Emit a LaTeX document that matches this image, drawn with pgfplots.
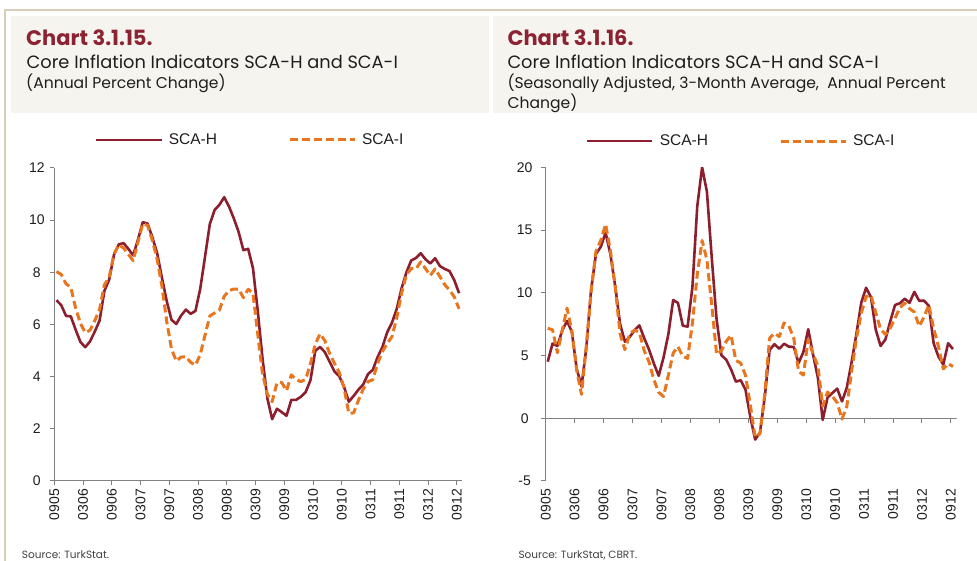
\documentclass[border=0pt]{standalone}
\usepackage{fontspec}
\setmainfont{Liberation Sans}
\newfontfamily\hdr{Poppins}
\usepackage{pgfplots}
\usepackage{pgfplotstable}
\pgfplotsset{compat=1.18}

\definecolor{scah}{RGB}{140,30,45}
\definecolor{scai}{RGB}{232,118,30}
\definecolor{chartred}{RGB}{140,35,50}
\definecolor{hdrbg}{RGB}{246,244,239}
\definecolor{framecol}{RGB}{216,205,185}
\definecolor{axisgray}{RGB}{128,128,128}
\definecolor{txt}{RGB}{30,30,30}

% annual percent change, monthly, 09.2005 - 09.2012
\pgfplotstableread{
x h i
0 6.93 8.03
1 6.74 7.92
2 6.33 7.56
3 6.31 7.42
4 5.80 6.63
5 5.33 6.04
6 5.13 5.69
7 5.35 5.78
8 5.73 6.15
9 6.15 6.58
10 7.29 7.52
11 7.72 7.81
12 8.67 8.70
13 9.07 9.06
14 9.12 8.93
15 8.90 8.69
16 8.65 8.45
17 9.25 9.15
18 9.92 9.86
19 9.87 9.80
20 9.35 9.23
21 8.74 8.51
22 7.80 7.48
23 6.90 6.13
24 6.18 5.06
25 6.02 4.60
26 6.34 4.75
27 6.57 4.77
28 6.41 4.55
29 6.52 4.44
30 7.37 4.85
31 8.60 5.59
32 9.85 6.33
33 10.39 6.44
34 10.59 6.55
35 10.88 7.08
36 10.52 7.30
37 10.07 7.36
38 9.55 7.36
39 8.85 7.03
40 8.90 7.35
41 8.16 7.20
42 6.52 5.63
43 4.68 4.10
44 3.17 3.33
45 2.37 3.04
46 2.77 3.76
47 2.64 3.78
48 2.50 3.46
49 3.11 4.07
50 3.11 3.89
51 3.23 3.81
52 3.41 3.90
53 3.87 4.50
54 4.99 5.25
55 5.14 5.64
56 4.94 5.38
57 4.57 4.89
58 4.20 4.51
59 4.02 4.16
60 3.61 3.58
61 3.04 2.59
62 3.26 2.61
63 3.50 3.09
64 3.70 3.52
65 4.10 3.81
66 4.26 3.88
67 4.75 4.50
68 5.13 4.96
69 5.70 5.27
70 6.07 5.53
71 6.60 6.26
72 7.38 7.20
73 7.99 7.89
74 8.45 8.15
75 8.55 8.13
76 8.73 8.40
77 8.50 8.14
78 8.34 7.88
79 8.54 8.13
80 8.24 7.84
81 8.13 7.53
82 8.05 7.32
83 7.70 7.06
84 7.20 6.60
}\annualdata

% seasonally adjusted, 3-month average, annualised
\pgfplotstableread{
x h i
0 4.51 7.17
1 5.95 7.05
2 5.76 5.22
3 6.98 6.98
4 7.76 8.78
5 6.88 6.95
6 3.96 3.83
7 2.54 1.90
8 5.60 5.80
9 10.27 10.10
10 13.10 13.30
11 13.66 14.18
12 14.80 15.46
13 13.04 13.34
14 10.50 10.44
15 7.51 6.72
16 6.10 5.47
17 6.48 6.74
18 7.02 7.03
19 7.40 6.84
20 6.38 5.38
21 5.47 4.49
22 4.36 3.08
23 3.38 2.06
24 4.83 1.73
25 6.68 3.42
26 9.42 5.19
27 9.19 5.71
28 7.38 4.94
29 7.30 4.77
30 10.49 7.60
31 16.90 11.46
32 20.00 14.17
33 18.06 12.61
34 12.80 9.04
35 7.90 5.10
36 5.03 5.38
37 4.66 6.13
38 3.90 6.62
39 2.92 4.60
40 3.03 4.40
41 2.27 3.42
42 0.10 1.04
43 -1.70 -1.52
44 -1.14 -1.23
45 1.73 2.00
46 5.45 6.38
47 5.90 6.77
48 5.54 6.51
49 5.94 7.60
50 5.70 7.35
51 5.69 6.39
52 4.40 3.74
53 5.28 3.44
54 7.10 6.30
55 5.07 5.12
56 3.24 4.18
57 -0.14 0.97
58 1.65 2.09
59 2.01 1.75
60 2.36 1.25
61 1.34 -0.07
62 2.44 0.94
63 4.49 3.74
64 6.75 6.40
65 9.22 8.37
66 10.40 9.70
67 9.66 9.80
68 7.05 8.42
69 5.76 7.10
70 6.28 6.68
71 7.72 7.18
72 9.03 7.98
73 9.16 8.81
74 9.53 9.17
75 9.20 8.74
76 10.07 8.46
77 9.36 7.33
78 9.37 8.06
79 8.96 9.04
80 5.97 7.16
81 4.91 5.71
82 4.28 3.93
83 5.98 4.36
84 5.51 4.12
}\sadata

\pgfplotsset{
  panel/.style={
    scale only axis,
    axis lines=left,
    axis line style={-, draw=axisgray, line width=1pt},
    tick style={draw=axisgray, line width=1pt},
    tick align=outside,
    major tick length=4.5pt,
    xmin=0,
    xtick={0,6,...,84},
    xticklabels={0905,0306,0906,0307,0907,0308,0908,0309,0909,0310,0910,0311,0911,0312,0912},
    tick label style={font=\fontsize{14}{16}\selectfont, text=txt},
    xticklabel style={rotate=90, anchor=east},
    /pgf/number format/assume math mode=true,
    legend style={draw=none, fill=none, inner sep=0pt, anchor=west,
      font=\fontsize{15.5}{17}\selectfont, text=txt,
      /tikz/every odd column/.append style={column sep=4pt},
      /tikz/every even column/.append style={column sep=69pt}},
    legend columns=-1,
    legend image code/.code={\draw[##1] (0pt,0pt) -- (65pt,0pt);},
  },
  hline/.style={scah, line width=2.6pt, line join=round},
  iline/.style={scai, line width=3pt, dash pattern=on 8pt off 4pt, line join=round},
}

\begin{document}
\begin{tikzpicture}
\useasboundingbox (0pt,0pt) rectangle (977pt,561pt);
% frame and header boxes
\draw[framecol, line width=1.5pt] (5pt,0pt) -- (5pt,551pt) -- (977pt,551pt);
\fill[hdrbg] (11pt,448.3pt) rectangle (489pt,545pt);
\fill[hdrbg] (493.3pt,448.3pt) rectangle (977pt,545pt);

% left header
\node[anchor=base west, inner sep=0pt, text=chartred, font=\hdr\bfseries\fontsize{21}{23}\selectfont] at (26pt,515.3pt) {Chart 3.1.15.};
\node[anchor=base west, inner sep=0pt, text=txt, font=\hdr\fontsize{17.8}{20}\selectfont] at (26.5pt,492.7pt) {Core Inflation Indicators SCA-H and SCA-I};
\node[anchor=base west, inner sep=0pt, text=txt, font=\hdr\fontsize{15.6}{18}\selectfont] at (26pt,472.7pt) {(Annual Percent Change)};

% right header
\node[anchor=base west, inner sep=0pt, text=chartred, font=\hdr\bfseries\fontsize{21}{23}\selectfont] at (507.3pt,515.3pt) {Chart 3.1.16.};
\node[anchor=base west, inner sep=0pt, text=txt, font=\hdr\fontsize{17.8}{20}\selectfont] at (507.3pt,492.7pt) {Core Inflation Indicators SCA-H and SCA-I};
\node[anchor=base west, inner sep=0pt, text=txt, font=\hdr\fontsize{15.6}{18}\selectfont] at (507.3pt,472.7pt) {(Seasonally Adjusted, 3-Month Average,~~Annual Percent};
\node[anchor=base west, inner sep=0pt, text=txt, font=\hdr\fontsize{15.6}{18}\selectfont] at (507.3pt,452.7pt) {Change)};

% sources
\node[anchor=base west, inner sep=0pt, text=txt!85, font=\hdr\fontsize{10.5}{12}\selectfont] at (21.7pt,2.5pt) {Source: TurkStat.};
\node[anchor=base west, inner sep=0pt, text=txt!85, font=\hdr\fontsize{10.5}{12}\selectfont] at (518.3pt,2.5pt) {Source: TurkStat, CBRT.};

% left panel
\begin{axis}[panel,
  at={(54.3pt,80pt)}, anchor=south west,
  width=407.4pt, height=313pt,
  xmax=85,
  ymin=0, ymax=12, ytick={0,2,...,12},
  yticklabel style={anchor=center, xshift=-13pt},
  legend style={at={(0.0999,1.0895)}},
]
\addplot[hline] table[x expr=\thisrow{x}+0.45, y=h] {\annualdata};
\addplot[iline] table[x expr=\thisrow{x}+0.45, y=i] {\annualdata};
\legend{SCA-H,SCA-I}
\end{axis}

% right panel
\begin{axis}[panel,
  at={(545.7pt,80pt)}, anchor=south west,
  width=411pt, height=313.7pt,
  xmax=85.2,
  ymin=-5, ymax=20, ytick={-5,0,...,20},
  yticklabel style={anchor=center, xshift=-16.5pt},
  x axis line style={draw=none},
  xtick style={draw=none},
  legend style={at={(0.098,1.0838)}},
]
\draw[axisgray, line width=1pt] (axis cs:0,0) -- (axis cs:85.2,0);
\pgfplotsinvokeforeach{0,6,...,84}{\draw[axisgray, line width=1pt] (axis cs:#1,0) -- ++(0pt,-4.5pt);}
\addplot[hline] table[x expr=\thisrow{x}+0.42, y=h] {\sadata};
\addplot[iline] table[x expr=\thisrow{x}+0.42, y=i] {\sadata};
\legend{SCA-H,SCA-I}
\end{axis}
\end{tikzpicture}
\end{document}
